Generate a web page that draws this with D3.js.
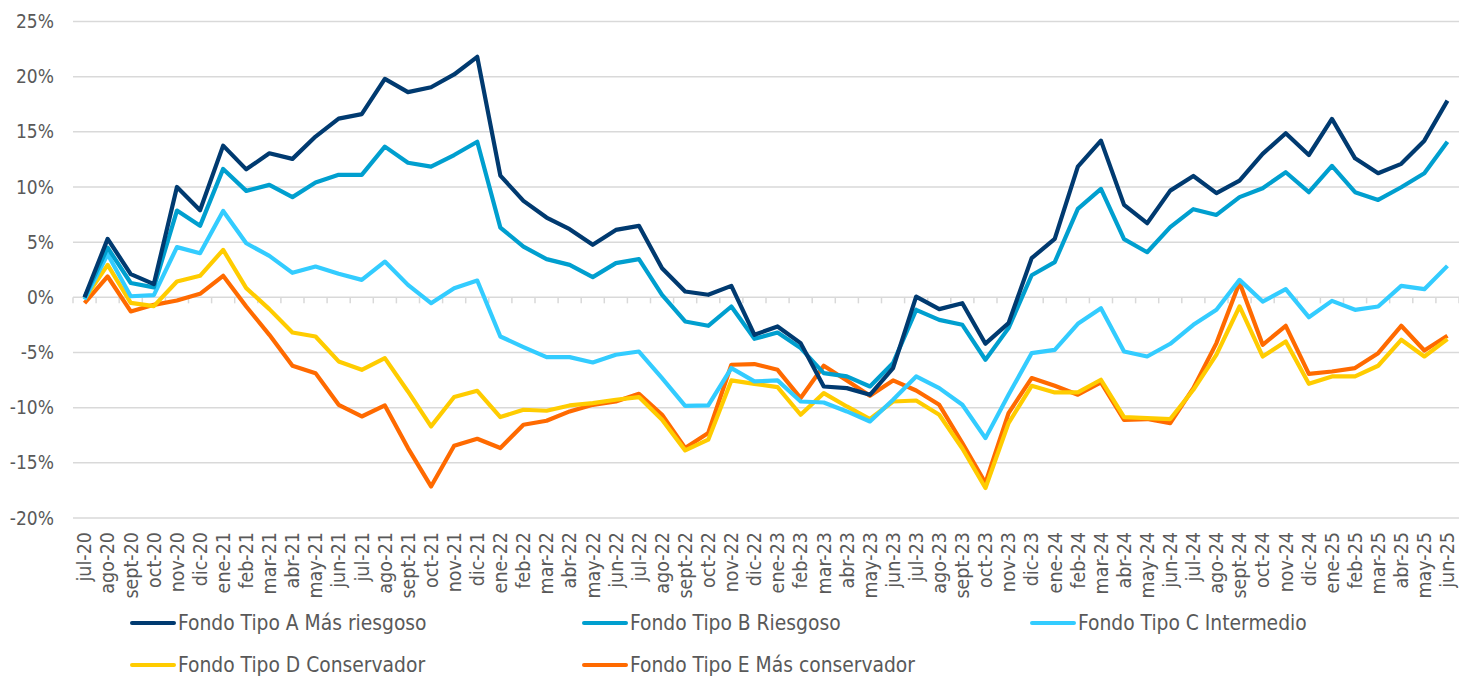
<!DOCTYPE html>
<html>
<head>
<meta charset="utf-8">
<script src="https://cdn.jsdelivr.net/npm/d3@7"></script>
<style>
  body { margin: 0; background: #fff; }
  svg { display: block; font-family: "DejaVu Sans Condensed", "DejaVu Sans", sans-serif; }
  .grid line { stroke: #d9d9d9; stroke-width: 1.5; }
  .lbl { fill: #595959; }
</style>
</head>
<body>
<svg id="chart" width="1459" height="677"></svg>
<script>
var months = ["jul-20","ago-20","sept-20","oct-20","nov-20","dic-20",
  "ene-21","feb-21","mar-21","abr-21","may-21","jun-21","jul-21","ago-21","sept-21","oct-21","nov-21","dic-21",
  "ene-22","feb-22","mar-22","abr-22","may-22","jun-22","jul-22","ago-22","sept-22","oct-22","nov-22","dic-22",
  "ene-23","feb-23","mar-23","abr-23","may-23","jun-23","jul-23","ago-23","sept-23","oct-23","nov-23","dic-23",
  "ene-24","feb-24","mar-24","abr-24","may-24","jun-24","jul-24","ago-24","sept-24","oct-24","nov-24","dic-24",
  "ene-25","feb-25","mar-25","abr-25","may-25","jun-25"];

var fondoA = [0, 5.3, 2.1, 1.2, 10.0, 7.9, 13.75, 11.6, 13.06, 12.55, 14.57, 16.2, 16.6, 19.8, 18.6, 19.04, 20.2, 21.8,
  11.03, 8.74, 7.23, 6.18, 4.76, 6.11, 6.48, 2.64, 0.53, 0.23, 1.04, -3.4, -2.64, -4.15, -8.08, -8.23, -8.83, -6.41,
  0.07, -1.07, -0.53, -4.2, -2.34, 3.55, 5.3, 11.85, 14.2, 8.38, 6.72, 9.67, 11.0, 9.44, 10.58, 13.0, 14.87, 12.9,
  16.17, 12.6, 11.25, 12.1, 14.2, 17.83];
var fondoB = [0, 4.5, 1.3, 0.9, 7.86, 6.48, 11.64, 9.65, 10.19, 9.08, 10.4, 11.1, 11.1, 13.66, 12.2, 11.85, 12.9, 14.1,
  6.32, 4.6, 3.46, 2.94, 1.83, 3.1, 3.46, 0.23, -2.19, -2.58, -0.83, -3.76, -3.19, -4.6, -6.87, -7.17, -8.08, -5.96,
  -1.13, -2.04, -2.49, -5.66, -2.79, 2.0, 3.19, 8.02, 9.83, 5.27, 4.09, 6.36, 7.99, 7.47, 9.08, 9.89, 11.34, 9.53,
  11.91, 9.53, 8.83, 9.98, 11.25, 14.1];
var fondoC = [-0.2, 3.9, 0.1, 0.2, 4.55, 4.0, 7.83, 4.9, 3.76, 2.22, 2.79, 2.13, 1.58, 3.24, 1.13, -0.53, 0.83, 1.52,
  -3.55, -4.51, -5.42, -5.42, -5.9, -5.2, -4.91, -7.32, -9.83, -9.8, -6.41, -7.62, -7.53, -9.44, -9.53, -10.34, -11.25, -9.28,
  -7.17, -8.23, -9.74, -12.76, -8.83, -5.06, -4.76, -2.4, -0.98, -4.91, -5.36, -4.21, -2.49, -1.13, 1.58, -0.38, 0.74, -1.8,
  -0.32, -1.13, -0.83, 1.04, 0.74, 2.85];
var fondoD = [-0.15, 2.94, -0.5, -0.8, 1.43, 1.95, 4.3, 0.83, -1.07, -3.19, -3.55, -5.81, -6.57, -5.51, -8.53, -11.7, -9.04, -8.47,
  -10.85, -10.19, -10.28, -9.8, -9.59, -9.28, -9.04, -11.1, -13.87, -12.9, -7.53, -7.84, -8.14, -10.64, -8.68, -9.89, -11.03, -9.44,
  -9.35, -10.64, -13.7, -17.28, -11.4, -8.02, -8.62, -8.62, -7.47, -10.85, -10.94, -11.03, -8.38, -5.2, -0.83, -5.36, -4.0, -7.84,
  -7.17, -7.17, -6.2, -3.85, -5.36, -3.79];
var fondoE = [-0.53, 1.89, -1.28, -0.68, -0.29, 0.32, 1.95, -0.83, -3.4, -6.2, -6.87, -9.74, -10.8, -9.8, -13.66, -17.14, -13.45, -12.82,
  -13.66, -11.55, -11.19, -10.34, -9.74, -9.44, -8.74, -10.64, -13.66, -12.3, -6.11, -6.05, -6.57, -9.13, -6.2, -7.53, -8.92, -7.53,
  -8.44, -9.74, -13.2, -16.83, -10.49, -7.32, -8.02, -8.83, -7.72, -11.1, -11.03, -11.4, -8.23, -4.15, 1.34, -4.3, -2.58, -6.93,
  -6.72, -6.41, -5.06, -2.58, -4.82, -3.49];

var yTicks = [-20, -15, -10, -5, 0, 5, 10, 15, 20, 25];

var series = [
  { name: "Fondo Tipo A Más riesgoso", values: fondoA, color: "#003a70" },
  { name: "Fondo Tipo B Riesgoso", values: fondoB, color: "#009fcf" },
  { name: "Fondo Tipo C Intermedio", values: fondoC, color: "#33ccff" },
  { name: "Fondo Tipo D Conservador", values: fondoD, color: "#ffcc00" },
  { name: "Fondo Tipo E Más conservador", values: fondoE, color: "#ff6a00" }
];

var svg = d3.select("#chart");
var plotLeft = 73, plotRight = 1459, plotTop = 21.5, plotBottom = 518;

var x = d3.scaleBand().domain(months).range([plotLeft, plotRight]);
var y = d3.scaleLinear().domain([-20, 25]).range([plotBottom, plotTop]);

// gridlines
svg.append("g").attr("class", "grid")
  .selectAll("line").data(yTicks).enter().append("line")
  .attr("x1", plotLeft).attr("x2", plotRight)
  .attr("y1", function(d) { return y(d); })
  .attr("y2", function(d) { return y(d); });

// y labels
svg.append("g").selectAll("text").data(yTicks).enter().append("text")
  .attr("class", "lbl")
  .attr("x", 54)
  .attr("y", function(d) { return y(d); })
  .attr("dy", "0.35em")
  .attr("text-anchor", "end")
  .style("font-size", "19px")
  .text(function(d) { return d + "%"; });

// tick marks on the zero line
var bounds = months.map(function(m) { return x(m); }).concat([plotRight]);
svg.append("g").selectAll("line").data(bounds).enter().append("line")
  .attr("x1", function(d) { return d; }).attr("x2", function(d) { return d; })
  .attr("y1", y(0)).attr("y2", y(0) + 6)
  .attr("stroke", "#d9d9d9").attr("stroke-width", 1.5);

// x labels
svg.append("g").selectAll("text").data(months).enter().append("text")
  .attr("class", "lbl")
  .attr("transform", function(d) {
    return "translate(" + (x(d) + x.bandwidth() / 2) + "," + 532 + ") rotate(-90)";
  })
  .attr("dy", "0.35em")
  .attr("text-anchor", "end")
  .style("font-size", "19.5px")
  .text(function(d) { return d; });

// lines
var line = d3.line()
  .x(function(d, i) { return x(months[i]) + x.bandwidth() / 2; })
  .y(function(d) { return y(d); });

svg.append("g").selectAll("path").data(series.slice().reverse()).enter().append("path")
  .attr("d", function(s) { return line(s.values); })
  .attr("fill", "none")
  .attr("stroke", function(s) { return s.color; })
  .attr("stroke-width", 4.2)
  .attr("stroke-linejoin", "round");

// legend
var legPos = [[130, 623], [582, 623], [1030, 623], [130, 665], [582, 665]];
var leg = svg.append("g").selectAll("g").data(series).enter().append("g")
  .attr("transform", function(d, i) { return "translate(" + legPos[i][0] + "," + legPos[i][1] + ")"; });
leg.append("line")
  .attr("x1", 2).attr("x2", 44).attr("y1", 0).attr("y2", 0)
  .attr("stroke", function(d) { return d.color; })
  .attr("stroke-width", 4).attr("stroke-linecap", "round");
leg.append("text")
  .attr("class", "lbl")
  .attr("x", 48).attr("dy", "0.35em")
  .style("font-size", "20.8px")
  .text(function(d) { return d.name; });
</script>
</body>
</html>
